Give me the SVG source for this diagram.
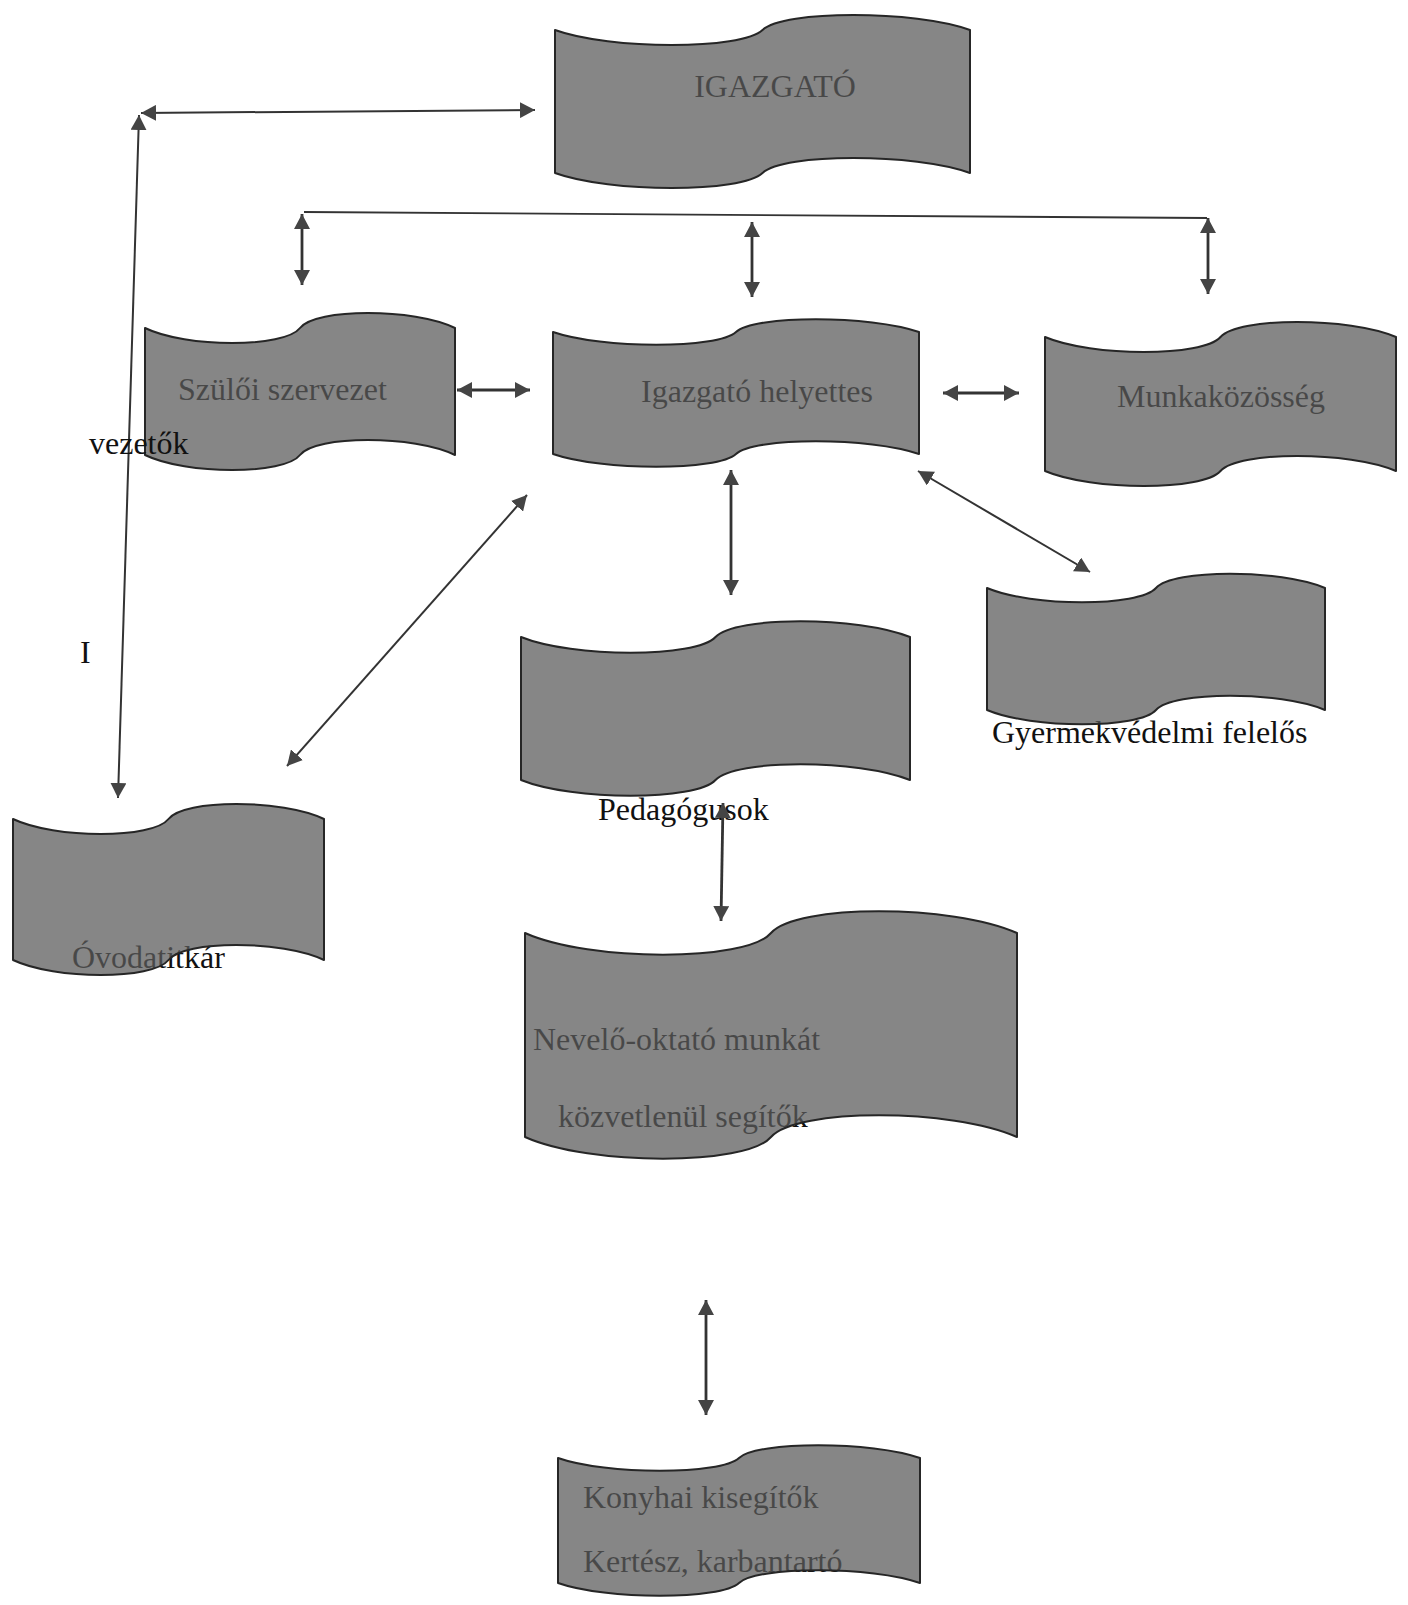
<svg xmlns="http://www.w3.org/2000/svg" width="1408" height="1605" viewBox="0 0 1408 1605">
<style>
.bg{fill:#ffffff}
.wave{fill:#5c5c5c;fill-opacity:0.74;stroke:#262626;stroke-width:2;stroke-linejoin:round}
.t{font-family:"Liberation Serif","Times New Roman",serif;font-size:32px;fill:#111111}
.c{fill:none;stroke:#333333;stroke-width:2.8;marker-start:url(#ah);marker-end:url(#ah)}
.thin{stroke-width:2}
.plain{fill:none;stroke:#333333;stroke-width:1.8}
</style>
<defs>
<marker id="ah" viewBox="0 0 15 16" refX="15" refY="8" markerWidth="15" markerHeight="16" markerUnits="userSpaceOnUse" orient="auto-start-reverse">
<path d="M0,0 L15,8 L0,16 Z" fill="#444444"/>
</marker>
</defs>
<rect class="bg" x="0" y="0" width="1408" height="1605"/>

<g id="igazgato">
<text class="t" x="775" y="97" text-anchor="middle">IGAZGATÓ</text>
<path class="wave" d="M555,30 C610,50 742,50 762.5,30 C783,10 915,10 970,30 L970,173 C915,153 783,153 762.5,173 C742,193 610,193 555,173 Z"/>
</g>

<g id="szuloi-szervezet">
<text class="t" x="178" y="400">Szülői szervezet</text>
<path class="wave" d="M145,328 C186,348 284.5,348 300,328 C315.5,308 414,308 455,328 L455,455 C414,435 315.5,435 300,455 C284.5,475 186,475 145,455 Z"/>
</g>

<g id="igazgato-helyettes">
<text class="t" x="757" y="402" text-anchor="middle">Igazgató helyettes</text>
<path class="wave" d="M553,332 C602,349 718,349 736,332 C754,315 870,315 919,332 L919,454 C870,437 754,437 736,454 C718,471 602,471 553,454 Z"/>
</g>

<g id="munkakozosseg">
<text class="t" x="1221" y="407" text-anchor="middle">Munkaközösség</text>
<path class="wave" d="M1045,337 C1092,357 1203,357 1220.5,337 C1238,317 1349,317 1396,337 L1396,471 C1349,451 1238,451 1220.5,471 C1203,491 1092,491 1045,471 Z"/>
</g>

<g id="gyermekvedelmi-felelos">
<text class="t" x="992" y="743">Gyermekvédelmi felelős</text>
<path class="wave" d="M987,588 C1032,607 1139,607 1156,588 C1173,569 1280,569 1325,588 L1325,710 C1280,691 1173,691 1156,710 C1139,729 1032,729 987,710 Z"/>
</g>

<g id="pedagogusok">
<text class="t" x="598" y="820">Pedagógusok</text>
<path class="wave" d="M521,637 C573,658 696,658 715.5,637 C735,616 858,616 910,637 L910,780 C858,759 735,759 715.5,780 C696,801 573,801 521,780 Z"/>
</g>

<g id="ovodatitkar">
<text class="t" x="72" y="968">Óvodatitkár</text>
<path class="wave" d="M13,819 C55,839 153,839 168.5,819 C184,799 282,799 324,819 L324,960 C282,940 184,940 168.5,960 C153,980 55,980 13,960 Z"/>
</g>

<g id="nevelo-oktato">
<text class="t" x="533" y="1050">Nevelő-oktató munkát</text>
<text class="t" x="558" y="1127">közvetlenül segítők</text>
<path class="wave" d="M525,933 C590,962 746,962 771,933 C796,904 952,904 1017,933 L1017,1137 C952,1108 796,1108 771,1137 C746,1166 590,1166 525,1137 Z"/>
</g>

<g id="konyhai-kisegitok">
<text class="t" x="583" y="1508">Konyhai kisegítők</text>
<text class="t" x="583" y="1572">Kertész, karbantartó</text>
<path class="wave" d="M558,1458 C606,1475 721,1475 739,1458 C757,1441 872,1441 920,1458 L920,1583 C872,1566 757,1566 739,1583 C721,1600 606,1600 558,1583 Z"/>
</g>

<g id="connectors">
<line class="c thin" x1="141" y1="113" x2="535" y2="110"/>
<line class="c thin" x1="139" y1="115" x2="118" y2="798"/>
<line class="plain" x1="304" y1="212" x2="1207" y2="218"/>
<line class="c" x1="302" y1="214" x2="302" y2="285"/>
<line class="c" x1="752" y1="222" x2="752" y2="297"/>
<line class="c" x1="1208" y1="218" x2="1208" y2="294"/>
<line class="c" x1="457" y1="390" x2="530" y2="390"/>
<line class="c" x1="943" y1="393" x2="1019" y2="393"/>
<line class="c thin" x1="527" y1="495" x2="287" y2="766"/>
<line class="c" x1="731" y1="470" x2="731" y2="595"/>
<line class="c thin" x1="918" y1="471" x2="1090" y2="572"/>
<line class="c" x1="723" y1="803" x2="721" y2="921"/>
<line class="c" x1="706" y1="1300" x2="706" y2="1415"/>
</g>

<g id="labels">
<text class="t" x="89" y="454">vezetők</text>
<text class="t" x="80" y="663">I</text>
</g>
</svg>
